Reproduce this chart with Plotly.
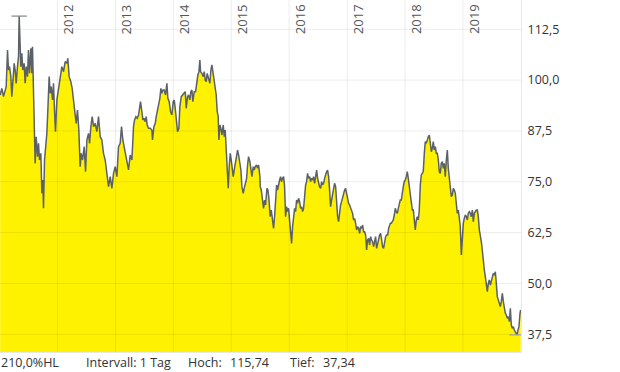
import pandas as pd
import plotly.graph_objects as go

# decimal-year time stamps and closing prices
t = [
 2011.011, 2011.040, 2011.069, 2011.097, 2011.115, 2011.138, 2011.155, 2011.172, 2011.195, 2011.212,
 2011.230, 2011.253, 2011.270, 2011.287, 2011.310, 2011.328, 2011.339, 2011.356, 2011.368, 2011.385,
 2011.402, 2011.425, 2011.443, 2011.460, 2011.483, 2011.500, 2011.518, 2011.541, 2011.558, 2011.569,
 2011.587, 2011.604, 2011.615, 2011.633, 2011.656, 2011.673, 2011.690, 2011.713, 2011.731, 2011.748,
 2011.759, 2011.777, 2011.800, 2011.817, 2011.834, 2011.857, 2011.874, 2011.892, 2011.915, 2011.932,
 2011.949, 2011.966, 2011.990, 2012.018, 2012.047, 2012.064, 2012.076, 2012.105, 2012.133, 2012.162,
 2012.179, 2012.202, 2012.231, 2012.254, 2012.277, 2012.306, 2012.323, 2012.346, 2012.369, 2012.392,
 2012.410, 2012.433, 2012.462, 2012.485, 2012.508, 2012.536, 2012.554, 2012.577, 2012.600, 2012.623,
 2012.652, 2012.680, 2012.709, 2012.738, 2012.767, 2012.795, 2012.824, 2012.853, 2012.882, 2012.911,
 2012.939, 2012.968, 2012.997, 2013.026, 2013.054, 2013.083, 2013.106, 2013.129, 2013.152, 2013.175,
 2013.198, 2013.227,
 2013.256, 2013.285, 2013.313, 2013.331, 2013.354, 2013.377, 2013.400, 2013.417, 2013.434, 2013.457,
 2013.475, 2013.498, 2013.515, 2013.532, 2013.549, 2013.572, 2013.601, 2013.630, 2013.641, 2013.665,
 2013.688, 2013.705, 2013.728, 2013.745, 2013.768, 2013.785, 2013.803, 2013.820, 2013.843, 2013.866,
 2013.889, 2013.906, 2013.929, 2013.952, 2013.975, 2013.998, 2014.016, 2014.033, 2014.056, 2014.073,
 2014.096, 2014.113, 2014.137, 2014.160, 2014.183, 2014.206, 2014.223, 2014.246, 2014.263, 2014.286,
 2014.303, 2014.321, 2014.338, 2014.361, 2014.384, 2014.407, 2014.424, 2014.442, 2014.459, 2014.470,
 2014.493, 2014.516, 2014.534, 2014.551, 2014.568, 2014.585, 2014.608, 2014.631, 2014.649, 2014.666,
 2014.683, 2014.701, 2014.724, 2014.741, 2014.758, 2014.775, 2014.787, 2014.804, 2014.821, 2014.839,
 2014.862, 2014.879, 2014.896, 2014.914, 2014.931, 2014.948, 2014.965, 2014.983, 2015.000, 2015.017,
 2015.034, 2015.052, 2015.069, 2015.092, 2015.109, 2015.127, 2015.144, 2015.167, 2015.184, 2015.207,
 2015.224, 2015.242, 2015.265, 2015.282, 2015.299, 2015.322, 2015.339, 2015.357, 2015.380, 2015.397,
 2015.414, 2015.437, 2015.455, 2015.472, 2015.495,
 2015.501, 2015.518, 2015.541, 2015.558, 2015.576, 2015.593, 2015.616, 2015.633, 2015.650, 2015.673,
 2015.691, 2015.708, 2015.731, 2015.748, 2015.765, 2015.783, 2015.800, 2015.817, 2015.835, 2015.852,
 2015.869, 2015.886, 2015.904, 2015.921, 2015.938, 2015.955, 2015.973, 2015.990, 2016.007, 2016.025,
 2016.042, 2016.059, 2016.076, 2016.094, 2016.111, 2016.128, 2016.145, 2016.163, 2016.180, 2016.197,
 2016.215, 2016.232, 2016.249, 2016.266, 2016.284, 2016.301, 2016.318, 2016.335, 2016.353, 2016.370,
 2016.387, 2016.405, 2016.422, 2016.439, 2016.456, 2016.474, 2016.491, 2016.508, 2016.525, 2016.543,
 2016.560, 2016.577, 2016.594, 2016.612, 2016.629, 2016.646, 2016.663, 2016.681, 2016.698, 2016.715,
 2016.733, 2016.750, 2016.767, 2016.784, 2016.802, 2016.819, 2016.836, 2016.853, 2016.871, 2016.888,
 2016.905, 2016.922, 2016.940, 2016.957, 2016.974, 2016.992, 2017.009, 2017.026, 2017.043, 2017.061,
 2017.078, 2017.095, 2017.112, 2017.130, 2017.147, 2017.164, 2017.182, 2017.199, 2017.216, 2017.233,
 2017.251, 2017.268, 2017.285, 2017.302, 2017.320, 2017.337, 2017.354, 2017.371, 2017.389, 2017.406,
 2017.423, 2017.440, 2017.458, 2017.475, 2017.492, 2017.510, 2017.527, 2017.544, 2017.561, 2017.579,
 2017.596, 2017.613, 2017.630, 2017.648, 2017.665, 2017.682, 2017.700, 2017.717, 2017.734,
 2017.746, 2017.763, 2017.780, 2017.797, 2017.815, 2017.832, 2017.849, 2017.867, 2017.884, 2017.901,
 2017.918, 2017.936, 2017.953, 2017.970, 2017.987, 2018.005, 2018.022, 2018.039, 2018.056, 2018.074,
 2018.091, 2018.108, 2018.126, 2018.143, 2018.160, 2018.177, 2018.195, 2018.212, 2018.229, 2018.246,
 2018.264, 2018.281, 2018.298, 2018.315, 2018.333, 2018.350, 2018.367, 2018.385, 2018.402, 2018.419,
 2018.436, 2018.454, 2018.471, 2018.488, 2018.505, 2018.523, 2018.540, 2018.557, 2018.575, 2018.592,
 2018.609, 2018.626, 2018.644, 2018.661, 2018.678, 2018.695, 2018.713, 2018.730, 2018.747, 2018.764,
 2018.782, 2018.799, 2018.816, 2018.834, 2018.851, 2018.868, 2018.885, 2018.903, 2018.920, 2018.937,
 2018.954, 2018.972, 2018.989, 2019.006, 2019.023, 2019.041, 2019.058, 2019.075, 2019.093, 2019.110,
 2019.127, 2019.144, 2019.162, 2019.179, 2019.196, 2019.213, 2019.231, 2019.248, 2019.265, 2019.283,
 2019.300, 2019.317, 2019.334, 2019.352, 2019.369, 2019.386, 2019.403, 2019.421, 2019.438, 2019.455,
 2019.473, 2019.490, 2019.507, 2019.524, 2019.542, 2019.559, 2019.576, 2019.593, 2019.611, 2019.628,
 2019.645, 2019.662, 2019.680, 2019.697, 2019.714, 2019.732, 2019.749, 2019.766, 2019.783, 2019.801,
 2019.818, 2019.835, 2019.852, 2019.870, 2019.887, 2019.904, 2019.921, 2019.933, 2019.950, 2019.967,
 2019.985, 2019.996,
]

price = [
 96.34, 97.98, 95.93, 97.57, 98.39, 107.40, 102.49, 103.31, 100.85, 95.93,
 100.03, 104.13, 102.49, 99.21, 103.31, 105.77, 115.74, 107.40, 103.31, 106.58,
 102.49, 104.13, 99.21, 103.31, 100.85, 107.40, 101.67, 107.81, 101.67, 108.22,
 95.11, 89.37, 79.53, 86.09, 81.17, 84.45, 80.35, 81.99, 72.16, 75.44,
 68.47, 80.35, 83.63, 86.91, 92.65, 100.85, 96.75, 98.39, 95.11, 99.21,
 92.65, 87.32, 95.11, 97.57, 100.03, 101.67, 103.31, 102.08, 104.54, 104.13,
 105.36, 100.85, 99.62, 97.98, 95.11, 92.65, 89.37, 92.65, 87.73, 78.71,
 81.99, 80.35, 83.63, 77.49, 85.27, 86.91, 84.45, 88.55, 91.01, 88.55,
 89.37, 87.32, 91.01, 86.09, 85.27, 81.99, 80.35, 77.08, 73.80, 76.26,
 73.39, 77.08, 78.71, 76.26, 83.63, 84.45, 88.55, 85.27, 83.63, 81.17,
 79.53, 77.90,
 81.58, 80.35, 88.55, 90.19, 91.01, 90.60, 91.42, 93.47, 94.70, 92.24,
 90.19, 90.60, 89.78, 91.01, 88.96, 88.14, 88.14, 87.73, 85.27, 88.55,
 89.37, 91.01, 92.65, 94.70, 95.52, 97.98, 96.75, 97.57, 97.57, 96.34,
 99.21, 95.52, 94.70, 92.24, 91.42, 94.70, 95.11, 93.06, 90.19, 87.32,
 88.14, 93.47, 95.93, 96.34, 96.75, 97.16, 93.06, 95.93, 96.34, 95.11,
 97.16, 97.57, 94.70, 97.16, 97.16, 100.02, 101.25, 102.08, 104.94, 102.08,
 101.67, 100.85, 102.08, 100.02, 99.62, 101.67, 100.44, 99.21, 102.49, 103.72,
 102.08, 100.02, 97.57, 96.34, 92.24, 91.01, 85.27, 88.96, 88.14, 86.50,
 88.96, 86.09, 87.73, 81.99, 79.13, 73.39, 78.71, 81.99, 80.35, 77.49,
 76.26, 77.90, 79.53, 81.99, 82.81, 81.58, 80.35, 77.90, 73.80, 72.16,
 73.39, 74.62, 75.85, 79.13, 81.17, 79.94, 77.90, 76.26, 78.71, 77.90,
 78.71, 79.13, 78.30, 79.13, 76.26,
 73.80, 72.98, 70.52, 68.47, 70.52, 69.29, 73.39, 72.98, 70.93, 66.42,
 68.06, 65.60, 63.55, 66.42, 70.52, 74.21, 72.98, 74.62, 75.44, 76.26,
 75.03, 75.85, 76.26, 73.80, 66.42, 68.88, 67.65, 68.47, 65.60, 63.14,
 59.86, 63.96, 66.42, 68.47, 67.65, 70.52, 69.70, 70.93, 70.11, 68.47,
 68.88, 67.65, 68.47, 71.75, 74.21, 75.03, 77.07, 75.85, 76.26, 75.03,
 75.85, 75.44, 76.26, 74.62, 75.85, 77.89, 75.85, 74.62, 73.80, 73.39,
 75.03, 74.21, 74.62, 75.85, 77.07, 77.48, 77.89, 76.26, 72.98, 68.88,
 70.52, 72.16, 74.21, 74.62, 73.80, 68.88, 66.42, 65.19, 68.47, 69.29,
 70.11, 71.34, 71.75, 72.98, 73.39, 71.75, 70.11, 69.70, 69.29, 68.47,
 68.06, 67.24, 65.60, 66.01, 64.78, 63.14, 63.96, 63.55, 62.32, 63.96,
 63.55, 64.37, 62.73, 62.73, 61.91, 58.22, 60.68, 61.09, 59.45, 61.50,
 60.68, 60.27, 59.04, 60.68, 61.50, 58.63, 59.86, 61.09, 61.91, 62.32,
 59.86, 59.04, 58.63, 60.68, 61.50, 61.91, 61.91, 63.55, 64.78,
 64.78, 64.78, 65.19, 65.60, 66.83, 68.47, 67.65, 67.24, 68.47, 69.29,
 70.52, 70.52, 72.57, 73.80, 75.03, 75.44, 76.26, 77.49, 75.85, 73.80,
 70.93, 69.70, 68.06, 68.06, 65.60, 63.14, 65.60, 66.42, 65.60, 68.06,
 74.21, 76.67, 77.08, 77.49, 81.99, 84.86, 84.45, 85.68, 86.09, 86.50,
 84.45, 82.40, 83.22, 84.86, 82.81, 83.63, 81.99, 81.99, 80.35, 77.49,
 77.08, 79.53, 79.94, 78.31, 79.53, 76.26, 80.35, 82.81, 78.31, 75.44,
 73.39, 71.34, 71.75, 73.39, 72.98, 72.16, 69.70, 67.24, 68.06, 66.42,
 63.96, 56.99, 61.50, 64.78, 66.01, 66.83, 66.42, 65.60, 67.24, 67.65,
 67.24, 66.42, 68.06, 65.19, 67.24, 67.65, 68.06, 68.06, 66.42, 63.14,
 61.91, 60.27, 58.22, 54.94, 53.30, 51.66, 50.03, 47.98, 50.03, 50.85,
 49.62, 50.44, 51.26, 52.48, 52.07, 52.89, 50.03, 46.75, 45.93, 45.11,
 44.29, 45.52, 47.57, 45.52, 43.47, 42.65, 42.24, 41.42, 41.83, 40.60,
 43.88, 39.78, 38.96, 39.37, 38.55, 38.14, 37.73, 37.34, 38.55, 39.37,
 42.65, 43.47,
]

y_ticks = [37.5, 50.0, 62.5, 75.0, 87.5, 100.0, 112.5]
years = [2012, 2013, 2014, 2015, 2016, 2017, 2018, 2019]
interval_label = "Intervall: 1 Tag"

def de(v, d):
    return f"{v:.{d}f}".replace(".", ",")

dates = pd.Timestamp("2011-01-01") + pd.to_timedelta([(x - 2011) * 365.25 for x in t], unit="D")
s = pd.Series(price, index=dates)
hi, lo = s.max(), s.min()
hi_d, lo_d = s.idxmax(), s.idxmin()
hl_pct = (hi / lo - 1) * 100

fig = go.Figure()
fig.add_trace(go.Scatter(
    x=dates, y=price, mode="lines", fill="tozeroy",
    fillcolor="#FFF200", line=dict(color="#5b6168", width=1.5),
    hoverinfo="skip", showlegend=False))
fig.add_trace(go.Scatter(
    x=[hi_d], y=[hi], mode="markers",
    marker=dict(symbol="line-ew", size=11, line=dict(color="#8a8f94", width=1.3)),
    showlegend=False, hoverinfo="skip"))
fig.add_trace(go.Scatter(
    x=[lo_d], y=[lo], mode="markers",
    marker=dict(symbol="line-ew", size=11, line=dict(color="#a4a4d4", width=1.3)),
    showlegend=False, hoverinfo="skip"))

grid = "rgba(0,0,0,0.075)"
shapes = []
for v in y_ticks:
    shapes.append(dict(type="line", xref="paper", x0=0, x1=1, yref="y", y0=v, y1=v,
                       line=dict(color=grid, width=1), layer="above"))
for yr in years:
    shapes.append(dict(type="line", xref="x", x0=f"{yr}-01-01", x1=f"{yr}-01-01",
                       yref="paper", y0=0, y1=1, line=dict(color=grid, width=1), layer="above"))

ann = []
for yr in years:
    ann.append(dict(x=f"{yr}-01-01", xref="x", y=1, yref="paper", text=str(yr),
                    textangle=-90, showarrow=False, xanchor="left", yanchor="top",
                    xshift=0, yshift=-2, font=dict(size=13, color="#555555")))

foot = [
    (0, de(hl_pct, 1) + "%HL"),
    (85, interval_label),
    (187, "Hoch:"),
    (229, de(hi, 2)),
    (289, "Tief:"),
    (322, de(lo, 2)),
]
for px, txt in foot:
    ann.append(dict(x=0, xref="paper", y=0, yref="paper", text=txt, showarrow=False,
                    xanchor="left", yanchor="top", xshift=px - 1, yshift=0,
                    font=dict(size=12.5, color="#333333")))

fig.update_layout(
    width=620, height=372,
    margin=dict(l=0, r=99, t=0, b=20),
    paper_bgcolor="white", plot_bgcolor="white",
    font=dict(family="Open Sans", size=12, color="#333333"),
    shapes=shapes, annotations=ann,
    xaxis=dict(type="date", range=["2011-01-04", "2020-01-02"], showgrid=False,
               showticklabels=False, zeroline=False, showline=True,
               linecolor="#e8e8e8", linewidth=1, fixedrange=True),
    yaxis=dict(side="right", range=[33.14, 119.70], tickvals=y_ticks,
               ticktext=[de(v, 1) for v in y_ticks], showgrid=False, zeroline=False,
               showline=True, linecolor="#e8e8e8", linewidth=1,
               ticks="", ticklabelstandoff=3,
               tickfont=dict(size=12.5, color="#333333"), fixedrange=True),
)

fig.write_html("out.html", config={"displayModeBar": False})
